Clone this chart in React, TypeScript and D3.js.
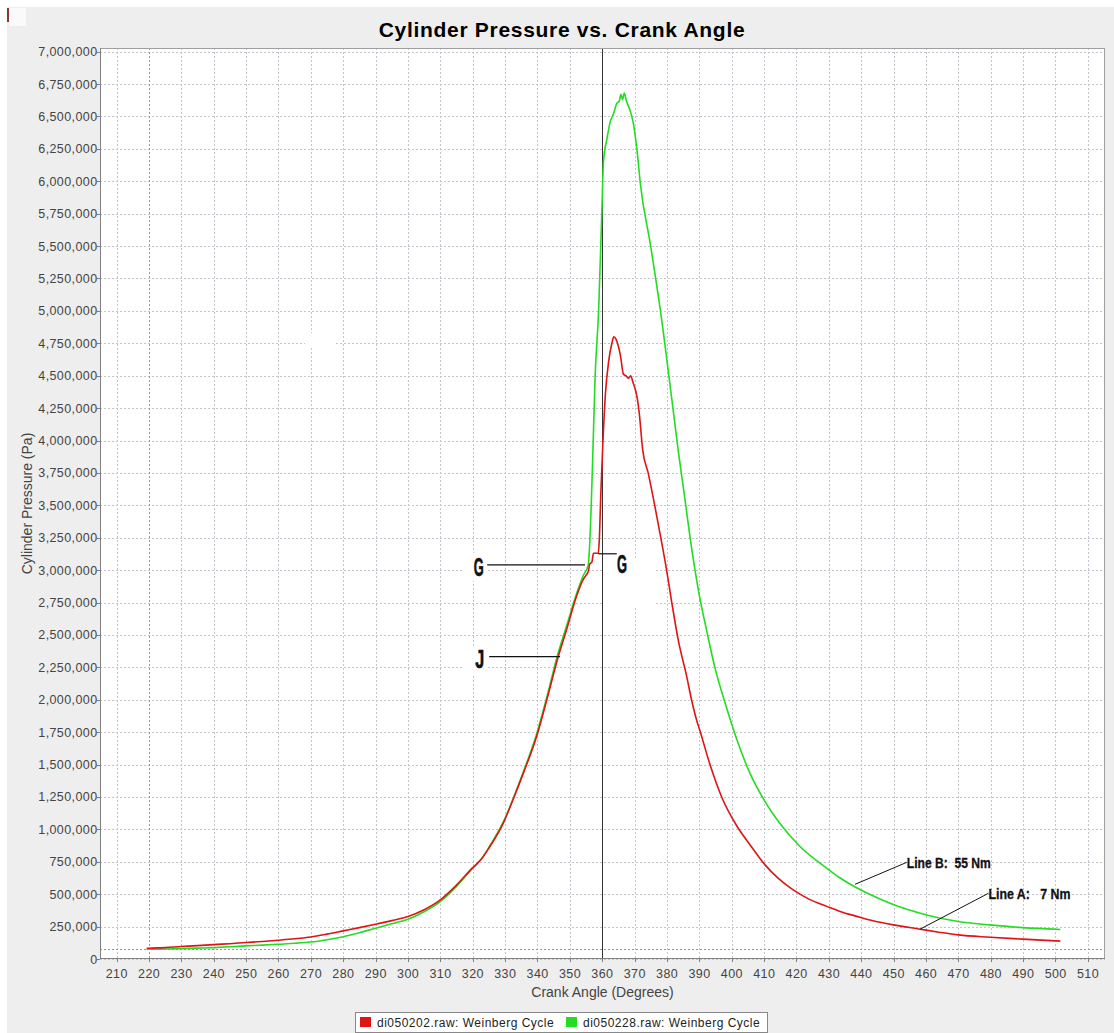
import React from 'react';
import * as d3 from 'd3';

// ---- Data ----
const angleA = [219.3, 220, 225, 230, 235, 240, 245, 250, 255, 260, 265, 270, 275, 280, 285, 290, 295, 300, 305, 310, 315, 320, 322.5, 325, 329.5, 332, 335.6, 339.8, 342.9, 346.4, 349, 352.1, 354.2, 355, 355.7, 356.2, 356.8, 357.3, 358.8, 359.1, 359.6, 360.2, 361, 362, 363, 363.6, 364.3, 365.6, 366.6, 367.3, 368.2, 368.8, 369.5, 370.8, 371.5, 372.5, 374.2, 376.3, 378.4, 379.9, 381.5, 383.5, 386.1, 387.6, 389.2, 390.2, 393.3, 396.9, 401.5, 405.7, 410.3, 414.5, 419, 424, 429.4, 433.5, 439.6, 441.7, 445.8, 449.9, 458.2, 464, 470, 479.8, 489.9, 501.5];
const pressureA = [82000, 83000, 88000, 96000, 103000, 111000, 118000, 127000, 135000, 145000, 156000, 170000, 192000, 217000, 242000, 268000, 296000, 328000, 380000, 456000, 570000, 705000, 765000, 855000, 1050000, 1200000, 1430000, 1720000, 2000000, 2330000, 2540000, 2800000, 2930000, 2960000, 2990000, 3050000, 3060000, 3130000, 3130000, 3230000, 3600000, 3970000, 4360000, 4610000, 4750000, 4800000, 4780000, 4660000, 4510000, 4500000, 4480000, 4500000, 4450000, 4330000, 4200000, 3930000, 3750000, 3490000, 3210000, 3000000, 2750000, 2460000, 2180000, 2000000, 1840000, 1760000, 1500000, 1250000, 1030000, 880000, 726000, 620000, 533000, 460000, 406000, 367000, 322000, 306000, 283000, 263000, 230000, 207000, 186000, 168000, 153000, 138000];

const angleB = [219.3, 220, 225, 230, 235, 240, 245, 250, 255, 260, 265, 270, 275, 280, 285, 290, 295, 300, 305, 310, 315, 320, 322.5, 325, 329.5, 335.6, 339.8, 342.9, 346.4, 349, 352.1, 354.2, 355.7, 356.2, 357.2, 357.8, 358.9, 359.9, 360.4, 361.5, 362.5, 363.5, 364.5, 365.3, 365.8, 366.3, 366.8, 367.5, 368.7, 369.6, 370.8, 371.8, 374.9, 378, 381.5, 383.5, 385.6, 387.1, 390.2, 392.3, 394.8, 397.9, 401.5, 405.7, 409.8, 414.9, 421.1, 429.4, 433.5, 439.6, 445.8, 449.9, 460.2, 470, 479.8, 489.9, 501.5];
const pressureB = [73000, 75000, 77000, 80000, 84000, 88000, 94000, 101000, 107000, 114000, 121000, 131000, 149000, 172000, 202000, 238000, 272000, 307000, 365000, 443000, 560000, 700000, 765000, 860000, 1060000, 1440000, 1740000, 2020000, 2360000, 2570000, 2820000, 2960000, 3040000, 3230000, 3970000, 4480000, 5000000, 5770000, 6150000, 6330000, 6460000, 6520000, 6600000, 6620000, 6670000, 6630000, 6680000, 6620000, 6540000, 6450000, 6230000, 5980000, 5510000, 5000000, 4320000, 3920000, 3540000, 3260000, 2780000, 2530000, 2250000, 1980000, 1700000, 1430000, 1235000, 1045000, 868000, 700000, 625000, 536000, 463000, 420000, 340000, 289000, 263000, 242000, 228000];

const xTicks = [210, 220, 230, 240, 250, 260, 270, 280, 290, 300, 310, 320, 330, 340, 350, 360, 370, 380, 390, 400, 410, 420, 430, 440, 450, 460, 470, 480, 490, 500, 510];
const yTicks = [0, 250000, 500000, 750000, 1000000, 1250000, 1500000, 1750000, 2000000, 2250000, 2500000, 2750000, 3000000, 3250000, 3500000, 3750000, 4000000, 4250000, 4500000, 4750000, 5000000, 5250000, 5500000, 5750000, 6000000, 6250000, 6500000, 6750000, 7000000];

const seriesNames = ['di050202.raw: Weinberg Cycle', 'di050228.raw: Weinberg Cycle'];
const title = 'Cylinder Pressure vs. Crank Angle';
const xLabel = 'Crank Angle (Degrees)';
const yLabel = 'Cylinder Pressure (Pa)';

const crosshair = { angle: 220, pressure: 75000 };
const markerAngle = 360;

// annotations in data coordinates
const pointerLabels = [
  { text: 'Line B:  55 Nm', tip: [438.1, 576000], end: [454.1, 746000], width: 84 },
  { text: 'Line A:   7 Nm', tip: [458.1, 229000], end: [479.3, 507000], width: 82 },
];
const letterLabels = [
  { text: 'G', from: 324.5, to: 354.7, p: 3040000, textAt: 320.3, side: 'left' },
  { text: 'G', from: 358.8, to: 364.5, p: 3126000, textAt: 364.6, side: 'right' },
  { text: 'J', from: 325.1, to: 347.0, p: 2333000, textAt: 320.8, side: 'left' },
];

const RED = '#E01414';
const GREEN = '#22DD22';

export default function App() {
  const L = 100, R = 1105, T = 48, B = 959;
  const x = d3.scaleLinear().domain([204.9, 515.3]).range([L, R]);
  const y = d3.scaleLinear().domain([0, 7028000]).range([B, T]);
  const fmt = d3.format(',');

  const lineGen = d3.line<[number, number]>().x(d => x(d[0])).y(d => y(d[1])).curve(d3.curveMonotoneX);
  const dataA = angleA.map((a, i) => [a, pressureA[i]] as [number, number]);
  const dataB = angleB.map((a, i) => [a, pressureB[i]] as [number, number]);

  const tickFont = { fontFamily: "'Liberation Sans', Arial, sans-serif", fontSize: 12.5, fill: '#444', letterSpacing: 0.4 } as any;
  const annFont = "'Liberation Sans Narrow', 'Liberation Sans', Arial, sans-serif";

  return (
    <svg width={1114} height={1033} style={{ position: 'absolute', left: 0, top: 0, display: 'block' }}>
      <rect x={0} y={0} width={1114} height={1033} fill="#ffffff" />
      <rect x={7} y={7} width={1107} height={1026} fill="#EEEEEE" />
      <rect x={9} y={8} width={17} height={18} fill="#FAFAFA" />
      <rect x={7} y={8} width={2} height={14} fill="#8B3A2A" />

      <text x={562} y={37} textAnchor="middle" style={{ fontFamily: "'Liberation Sans', Arial, sans-serif", fontSize: 21, fontWeight: 'bold', letterSpacing: 0.7 }} fill="#000">{title}</text>

      <rect x={L} y={T} width={R - L} height={B - T} fill="#ffffff" />
      <clipPath id="plotclip"><rect x={L} y={T} width={R - L} height={B - T} /></clipPath>

      {/* grid */}
      <g stroke="#C4C4CE" strokeWidth={1} strokeDasharray="2,2">
        {xTicks.map(t => (
          <line key={'gx' + t} x1={Math.round(x(t)) + 0.5} x2={Math.round(x(t)) + 0.5} y1={T} y2={B} />
        ))}
        {yTicks.map(t => (
          <line key={'gy' + t} x1={L} x2={R} y1={Math.round(y(t)) + 0.5} y2={Math.round(y(t)) + 0.5} />
        ))}
      </g>

      {/* erased patches behind pasted annotations */}
      <rect x={305} y={333} width={30} height={15} fill="#fff" />
      <rect x={464} y={553} width={24} height={28} fill="#fff" />
      <rect x={464} y={647} width={24} height={28} fill="#fff" />
      <rect x={604} y={558} width={50} height={50} fill="#fff" />

      {/* crosshairs */}
      <g stroke="#8C8CF0" strokeWidth={1} strokeDasharray="2,2">
        <line x1={Math.round(x(crosshair.angle)) + 0.5} x2={Math.round(x(crosshair.angle)) + 0.5} y1={T} y2={B} />
        <line x1={L} x2={R} y1={Math.round(y(crosshair.pressure)) + 0.5} y2={Math.round(y(crosshair.pressure)) + 0.5} />
      </g>
      <line x1={Math.round(x(markerAngle)) + 0.5} x2={Math.round(x(markerAngle)) + 0.5} y1={T} y2={B} stroke="#333" strokeWidth={1} />

      {/* series */}
      <g clipPath="url(#plotclip)" fill="none" strokeWidth={1.6} strokeLinejoin="round">
        <path d={lineGen(dataB) || ''} stroke={GREEN} />
        <path d={lineGen(dataA) || ''} stroke={RED} />
      </g>

      {/* plot outline & axes */}
      <rect x={L + 0.5} y={T + 0.5} width={R - L - 1} height={B - T - 1} fill="none" stroke="#A0A0A0" />
      <line x1={L + 0.5} x2={L + 0.5} y1={T} y2={B} stroke="#808080" />
      <line x1={L} x2={R} y1={B - 0.5} y2={B - 0.5} stroke="#808080" />

      {/* y ticks */}
      {yTicks.map(t => (
        <g key={'yt' + t}>
          <line x1={L - 3} x2={L} y1={Math.round(y(t)) + 0.5} y2={Math.round(y(t)) + 0.5} stroke="#808080" />
          <text x={97.5} y={y(t)} dy="0.36em" textAnchor="end" style={tickFont}>{fmt(t)}</text>
        </g>
      ))}
      {/* x ticks */}
      {xTicks.map(t => (
        <g key={'xt' + t}>
          <line x1={Math.round(x(t)) + 0.5} x2={Math.round(x(t)) + 0.5} y1={B} y2={B + 3} stroke="#808080" />
          <text x={x(t) + 0.2} y={977.5} textAnchor="middle" style={tickFont}>{t}</text>
        </g>
      ))}

      <text x={(L + R) / 2} y={997} textAnchor="middle" style={{ fontFamily: "'Liberation Sans', Arial, sans-serif", fontSize: 14, fill: '#444' }}>{xLabel}</text>
      <text transform={`translate(32, ${(T + B) / 2}) rotate(-90)`} textAnchor="middle" style={{ fontFamily: "'Liberation Sans', Arial, sans-serif", fontSize: 14, fill: '#444' }}>{yLabel}</text>

      {/* annotations */}
      {pointerLabels.map((p, i) => (
        <g key={'pl' + i}>
          <line x1={x(p.tip[0])} y1={y(p.tip[1])} x2={x(p.end[0])} y2={y(p.end[1])} stroke="#111" strokeWidth={1} />
          <text x={x(p.end[0])} y={y(p.end[1]) + 5.5} textLength={p.width} lengthAdjust="spacingAndGlyphs"
            style={{ fontFamily: annFont, fontWeight: 'bold', fontSize: 15, whiteSpace: 'pre' }} fill="#111" stroke="#111" strokeWidth={0.3}>{p.text}</text>
        </g>
      ))}
      {letterLabels.map((g, i) => (
        <g key={'ll' + i}>
          <line x1={x(g.from)} x2={x(g.to)} y1={y(g.p)} y2={y(g.p)} stroke="#111" strokeWidth={1.2} />
          <text x={x(g.textAt)} y={y(g.p) + (g.side === 'left' ? 11 : 19)} textLength={g.text === 'G' ? 10 : 9} lengthAdjust="spacingAndGlyphs"
            style={{ fontFamily: annFont, fontWeight: 'bold', fontSize: 25 }} fill="#111" stroke="#111" strokeWidth={0.6}>{g.text}</text>
        </g>
      ))}

      {/* legend */}
      <rect x={355.5} y={1012.5} width={412} height={20} fill="#ffffff" stroke="#888" />
      <rect x={360} y={1017} width={11} height={10} fill={RED} />
      <text x={377} y={1027} style={{ fontFamily: "'Liberation Sans', Arial, sans-serif", fontSize: 12, fill: '#222', letterSpacing: 0.5 }}>{seriesNames[0]}</text>
      <rect x={566} y={1017} width={11} height={10} fill={GREEN} />
      <text x={583} y={1027} style={{ fontFamily: "'Liberation Sans', Arial, sans-serif", fontSize: 12, fill: '#222', letterSpacing: 0.5 }}>{seriesNames[1]}</text>
    </svg>
  );
}
